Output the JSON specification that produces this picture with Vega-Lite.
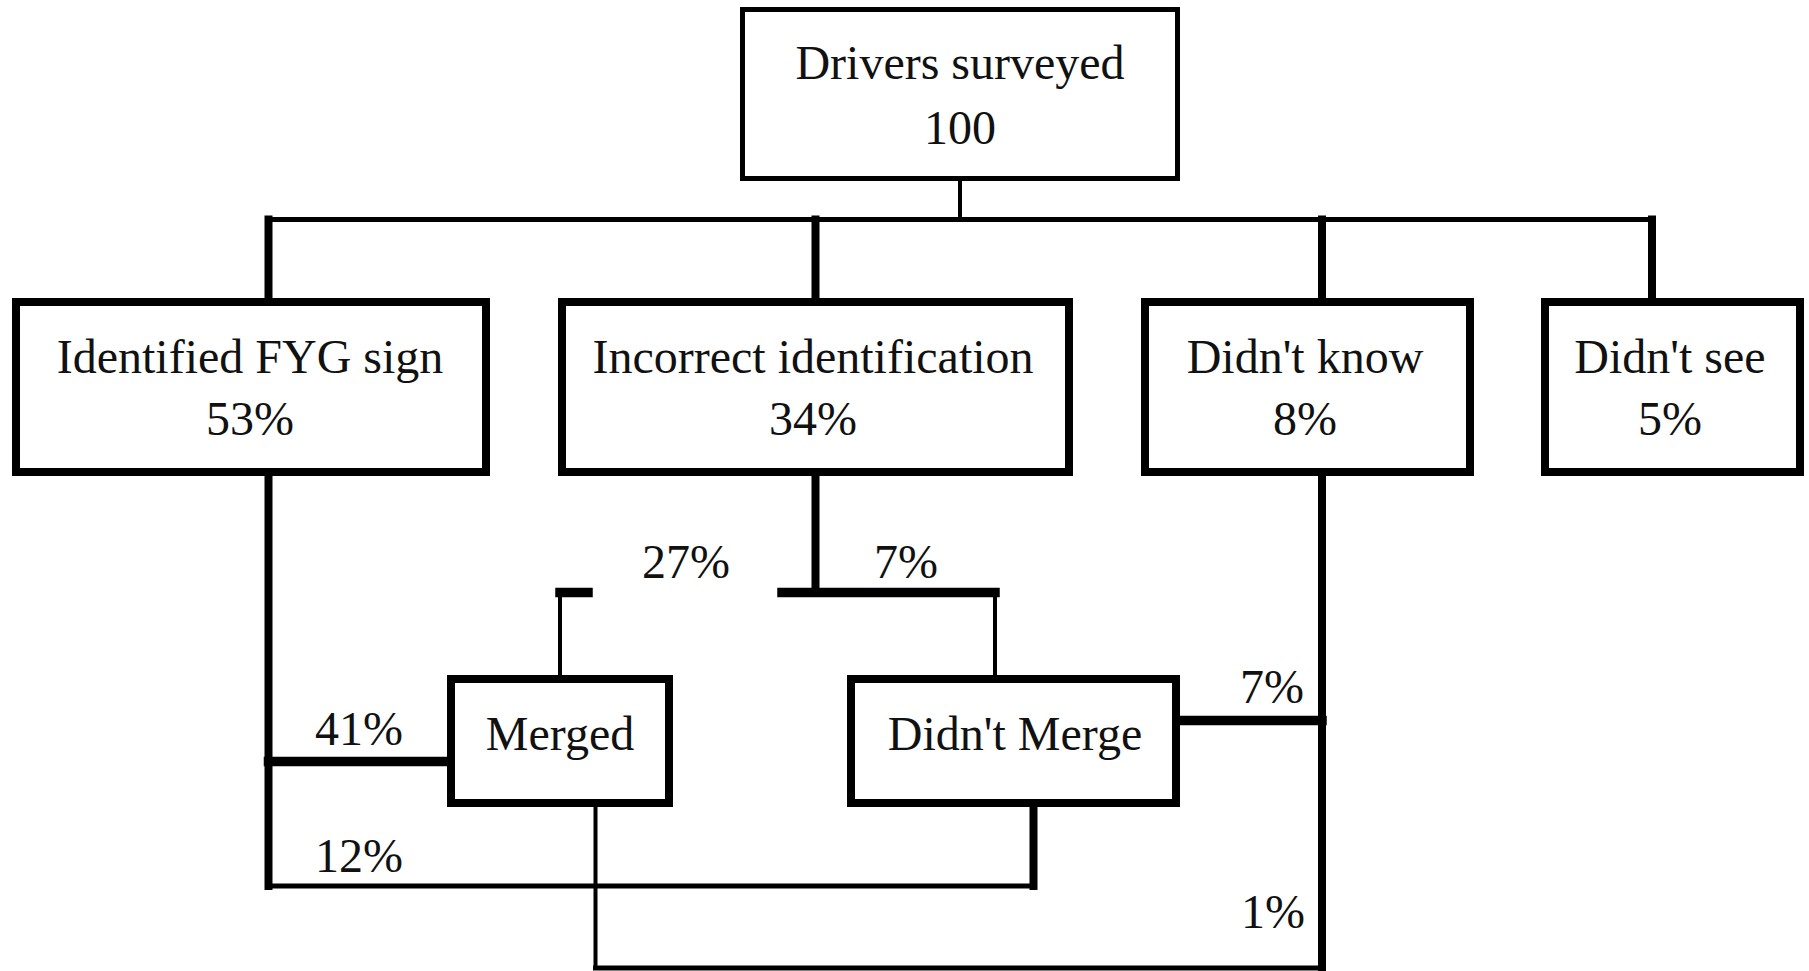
{
  "$schema": "https://vega.github.io/schema/vega-lite/v6.json",
  "width": 1809,
  "height": 971,
  "padding": 0,
  "autosize": {"type": "none"},
  "background": "white",
  "config": {"view": {"stroke": null}},
  "datasets": {
    "boxes": [
      {"box": "Drivers surveyed", "x": 742.5, "x2": 1177.5, "y": 9.5, "y2": 178.5, "weight": "medium"},
      {"box": "Identified FYG sign", "x": 16, "x2": 486, "y": 302, "y2": 472, "weight": "heavy"},
      {"box": "Incorrect identification", "x": 562, "x2": 1069, "y": 302, "y2": 472, "weight": "heavy"},
      {"box": "Didn't know", "x": 1145, "x2": 1470, "y": 302, "y2": 472, "weight": "heavy"},
      {"box": "Didn't see", "x": 1545, "x2": 1800, "y": 302, "y2": 472, "weight": "heavy"},
      {"box": "Merged", "x": 451, "x2": 669, "y": 679, "y2": 803, "weight": "heavy"},
      {"box": "Didn't Merge", "x": 851, "x2": 1176, "y": 679, "y2": 803, "weight": "heavy"}
    ],
    "links": [
      {"x": 960, "x2": 960, "y": 178, "y2": 219.5, "weight": "light"},
      {"x": 268.5, "x2": 1652, "y": 219.5, "y2": 219.5, "weight": "medium"},
      {"x": 268.5, "x2": 268.5, "y": 219.5, "y2": 302, "weight": "heavy"},
      {"x": 815.5, "x2": 815.5, "y": 219.5, "y2": 302, "weight": "heavy"},
      {"x": 1322, "x2": 1322, "y": 219.5, "y2": 302, "weight": "heavy"},
      {"x": 1652, "x2": 1652, "y": 219.5, "y2": 302, "weight": "heavy"},
      {"x": 268.5, "x2": 268.5, "y": 472, "y2": 886, "weight": "heavy"},
      {"x": 268.5, "x2": 451, "y": 761.5, "y2": 761.5, "weight": "extra"},
      {"x": 268.5, "x2": 1033.5, "y": 886, "y2": 886, "weight": "medium"},
      {"x": 1033.5, "x2": 1033.5, "y": 803, "y2": 886, "weight": "heavy"},
      {"x": 815.5, "x2": 815.5, "y": 472, "y2": 592.5, "weight": "heavy"},
      {"x": 782, "x2": 995, "y": 592.5, "y2": 592.5, "weight": "extra"},
      {"x": 560, "x2": 588, "y": 592.5, "y2": 592.5, "weight": "extra"},
      {"x": 560, "x2": 560, "y": 592.5, "y2": 679, "weight": "light"},
      {"x": 995, "x2": 995, "y": 592.5, "y2": 679, "weight": "light"},
      {"x": 595.5, "x2": 595.5, "y": 803, "y2": 968, "weight": "light"},
      {"x": 595.5, "x2": 1322, "y": 968, "y2": 968, "weight": "medium"},
      {"x": 1176, "x2": 1322, "y": 720.5, "y2": 720.5, "weight": "extra"},
      {"x": 1322, "x2": 1322, "y": 472, "y2": 968, "weight": "heavy"}
    ],
    "labels": [
      {"text": "Drivers surveyed", "x": 960, "y": 79},
      {"text": "100", "x": 960, "y": 144},
      {"text": "Identified FYG sign", "x": 250, "y": 373},
      {"text": "53%", "x": 250, "y": 435},
      {"text": "Incorrect identification", "x": 813, "y": 373},
      {"text": "34%", "x": 813, "y": 435},
      {"text": "Didn't know", "x": 1305, "y": 373},
      {"text": "8%", "x": 1305, "y": 435},
      {"text": "Didn't see", "x": 1670, "y": 373},
      {"text": "5%", "x": 1670, "y": 435},
      {"text": "Merged", "x": 560, "y": 750},
      {"text": "Didn't Merge", "x": 1015, "y": 750},
      {"text": "27%", "x": 686, "y": 578},
      {"text": "7%", "x": 906, "y": 578},
      {"text": "41%", "x": 359, "y": 745},
      {"text": "12%", "x": 359, "y": 872},
      {"text": "7%", "x": 1272, "y": 703},
      {"text": "1%", "x": 1273, "y": 928}
    ]
  },
  "encoding": {
    "x": {"field": "x", "type": "quantitative", "scale": {"domain": [0, 1809], "nice": false, "zero": false}, "axis": null},
    "y": {"field": "y", "type": "quantitative", "scale": {"domain": [971, 0], "nice": false, "zero": false}, "axis": null}
  },
  "layer": [
    {
      "data": {"name": "links"},
      "transform": [{"filter": "datum.weight === 'light'"}],
      "mark": {"type": "rule", "color": "black", "strokeCap": "square", "strokeWidth": 4},
      "encoding": {"x2": {"field": "x2"}, "y2": {"field": "y2"}}
    },
    {
      "data": {"name": "links"},
      "transform": [{"filter": "datum.weight === 'medium'"}],
      "mark": {"type": "rule", "color": "black", "strokeCap": "square", "strokeWidth": 5},
      "encoding": {"x2": {"field": "x2"}, "y2": {"field": "y2"}}
    },
    {
      "data": {"name": "links"},
      "transform": [{"filter": "datum.weight === 'heavy'"}],
      "mark": {"type": "rule", "color": "black", "strokeCap": "square", "strokeWidth": 8},
      "encoding": {"x2": {"field": "x2"}, "y2": {"field": "y2"}}
    },
    {
      "data": {"name": "links"},
      "transform": [{"filter": "datum.weight === 'extra'"}],
      "mark": {"type": "rule", "color": "black", "strokeCap": "square", "strokeWidth": 9.5},
      "encoding": {"x2": {"field": "x2"}, "y2": {"field": "y2"}}
    },
    {
      "data": {"name": "boxes"},
      "transform": [{"filter": "datum.weight === 'medium'"}],
      "mark": {"type": "rect", "fill": "white", "stroke": "black", "strokeWidth": 5},
      "encoding": {"x2": {"field": "x2"}, "y2": {"field": "y2"}}
    },
    {
      "data": {"name": "boxes"},
      "transform": [{"filter": "datum.weight === 'heavy'"}],
      "mark": {"type": "rect", "fill": "white", "stroke": "black", "strokeWidth": 8},
      "encoding": {"x2": {"field": "x2"}, "y2": {"field": "y2"}}
    },
    {
      "data": {"name": "labels"},
      "mark": {"type": "text", "font": "Times New Roman, Liberation Serif, DejaVu Serif, serif", "fontSize": 48, "align": "center", "baseline": "alphabetic", "color": "#111111"},
      "encoding": {"text": {"field": "text", "type": "nominal"}}
    }
  ]
}
